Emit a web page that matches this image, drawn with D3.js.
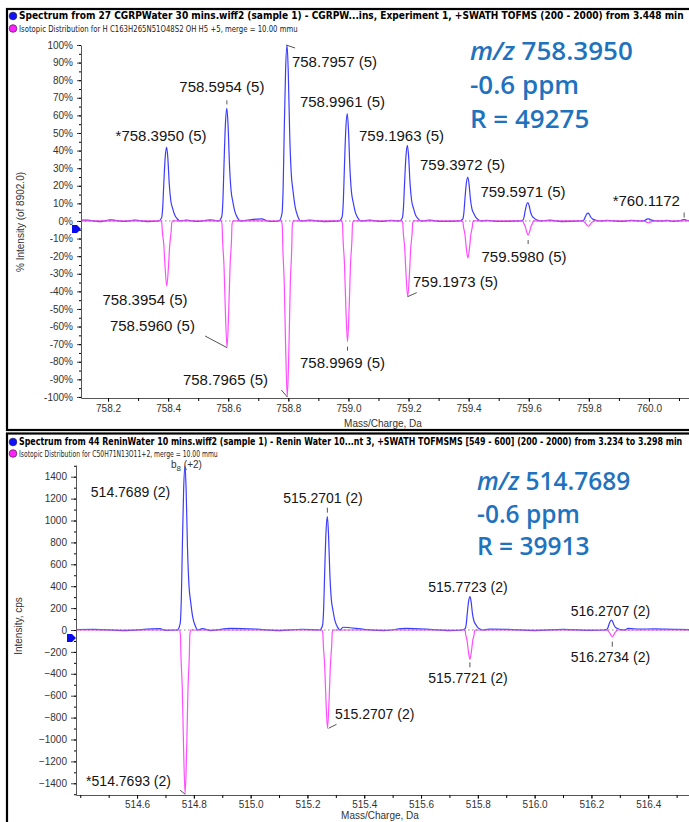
<!DOCTYPE html>
<html>
<head>
<meta charset="utf-8">
<script src="https://cdn.jsdelivr.net/npm/d3@7"></script>
<style>
  body { margin: 0; background: #fff; }
  svg { display: block; font-family: "Liberation Sans", Arial, sans-serif; }
</style>
</head>
<body>
<div id="chart"></div>
<script>
/**
 * DATA
 * */
const topHeader = "Spectrum from 27 CGRPWater 30 mins.wiff2 (sample 1) - CGRPW...ins, Experiment 1, +SWATH TOFMS (200 - 2000) from 3.448 min";
const topSubHeader = "Isotopic Distribution for H C163H265N51O48S2 OH H5 +5, merge = 10.00 mmu";
const botHeader = "Spectrum from 44 ReninWater 10 mins.wiff2 (sample 1) - Renin Water 10...nt 3, +SWATH TOFMSMS [549 - 600] (200 - 2000) from 3.234 to 3.298 min";
const botSubHeader = "Isotopic Distribution for C50H71N13O11+2, merge = 10.00 mmu";

// measured (blue, up) and theoretical (pink, down), % intensity
const topMeasured = [
  { mz: 758.3950, value: 42, label: "*758.3950 (5)" },
  { mz: 758.5954, value: 64, label: "758.5954 (5)" },
  { mz: 758.7957, value: 100, label: "758.7957 (5)" },
  { mz: 758.9961, value: 61, label: "758.9961 (5)" },
  { mz: 759.1963, value: 43, label: "759.1963 (5)" },
  { mz: 759.3972, value: 25, label: "759.3972 (5)" },
  { mz: 759.5971, value: 10.5, label: "759.5971 (5)" },
  { mz: 759.7975, value: 4.5 },
  { mz: 759.9980, value: 1.2 },
  { mz: 760.1172, value: 0.8, label: "*760.1172" }
];
const topTheory = [
  { mz: 758.3954, value: 37, label: "758.3954 (5)" },
  { mz: 758.5960, value: 72, label: "758.5960 (5)" },
  { mz: 758.7965, value: 100, label: "758.7965 (5)" },
  { mz: 758.9969, value: 68.6, label: "758.9969 (5)" },
  { mz: 759.1973, value: 43, label: "759.1973 (5)" },
  { mz: 759.3976, value: 21 },
  { mz: 759.5980, value: 8, label: "759.5980 (5)" },
  { mz: 759.7984, value: 3 },
  { mz: 759.9987, value: 1 }
];
const topNoise = [
  [758.13, 0.5], [758.17, -0.4], [758.21, 0.6], [758.25, -0.3], [758.29, 0.5], [758.33, -0.4],
  [758.46, 0.5], [758.50, -0.3], [758.54, 0.6], [758.66, 0.4], [758.71, 1.2], [758.74, -0.3],
  [758.87, 0.5], [758.92, -0.4], [759.07, 0.5], [759.11, -0.3], [759.14, 0.4], [759.27, 0.5],
  [759.31, -0.3], [759.46, 0.4], [759.50, -0.3], [759.67, 0.5], [759.71, -0.4], [759.86, 0.4],
  [759.91, -0.3], [759.94, 0.4], [760.06, 0.3], [760.085, -0.3]
];
const topXTicks = [758.2, 758.4, 758.6, 758.8, 759.0, 759.2, 759.4, 759.6, 759.8, 760.0];
const topYTicks = [100, 90, 80, 70, 60, 50, 40, 30, 20, 10, 0, -10, -20, -30, -40, -50, -60, -70, -80, -90, -100];
const topInfo = ["758.3950", "-0.6 ppm", "R = 49275"];

// cps
const botMeasured = [
  { mz: 514.7689, value: 1500, label: "514.7689 (2)" },
  { mz: 515.2701, value: 1035, label: "515.2701 (2)" },
  { mz: 515.7723, value: 304, label: "515.7723 (2)" },
  { mz: 516.2707, value: 91, label: "516.2707 (2)" }
];
const botTheory = [
  { mz: 514.7693, value: 1500, label: "*514.7693 (2)" },
  { mz: 515.2707, value: 898, label: "515.2707 (2)" },
  { mz: 515.7721, value: 268, label: "515.7721 (2)" },
  { mz: 516.2734, value: 61, label: "516.2734 (2)" }
];
const botNoise = [
  [514.45, 6], [514.55, -5], [514.68, 12], [514.70, -4], [514.83, 12], [514.86, -5], [514.93, 15],
  [515.02, 8], [515.10, -6], [515.18, 7], [515.325, 25], [515.40, 6], [515.47, -5], [515.547, 14],
  [515.63, 6], [515.70, -5], [515.84, 8], [515.90, 6], [516.00, -5], [516.10, 6], [516.20, -4],
  [516.33, 15], [516.37, 8], [516.42, 10], [516.50, 5]
];
const botXTicks = [514.6, 514.8, 515.0, 515.2, 515.4, 515.6, 515.8, 516.0, 516.2, 516.4];
const botYTicks = [1400, 1200, 1000, 800, 600, 400, 200, 0, -200, -400, -600, -800, -1000, -1200, -1400];
const botInfo = ["514.7689", "-0.6 ppm", "R = 39913"];
const fragmentTag = ["b", "8", " (+2)"];

// peak profiles (offset in Da, fraction of height)
const blueShape = [[-0.027, 0], [-0.017, 0.04], [-0.013, 0.19], [-0.0095, 0.5], [-0.0048, 0.86], [0, 1],
  [0.004, 0.85], [0.0087, 0.5], [0.014, 0.27], [0.02, 0.17], [0.027, 0.08], [0.035, 0.03], [0.045, 0]];
const pinkShape = [[-0.02, 0], [-0.0165, 0.03], [-0.015, 0.14], [-0.01, 0.36], [-0.0057, 0.7], [0, 1],
  [0.0057, 0.7], [0.01, 0.36], [0.015, 0.14], [0.0165, 0.03], [0.02, 0]];

/**
 * LAYOUT (label offsets in px from each peak tip)
 * */
const topMeasuredLayout = [
  { dx: -5.6, dy: -5.7 },
  { dx: -5, dy: -16, lead: [0, -8, 0, -4] },
  { dx: 4.9, dy: 22.4, anchor: "start", lead: [-1, 0, 8, 3] },
  { dx: -4.8, dy: -6.2 },
  { dx: -5.9, dy: -3.9 },
  { dx: -5.3, dy: -6.6 },
  { dx: -4.9, dy: -5.1 },
  null, null,
  { dx: -4.2, dy: -13.2, anchor: "end", lead: [0, -7, 0, -2] }
];
const topTheoryLayout = [
  { dx: -21.8, dy: 19.3 },
  { dx: -74.6, dy: -16.3, lead: [-22, -11.7, 0, 0] },
  { dx: -61.8, dy: -11.6, lead: [-6, -7, 0, 0] },
  { dx: -5, dy: 26.4, lead: [0, 5, 0, 9] },
  { dx: 5.3, dy: -9.6, anchor: "start", lead: [0, 0, 9, -4] },
  null,
  { dx: -4.1, dy: 27, lead: [0, 5, 0, 9] },
  null, null
];
const botMeasuredLayout = [
  { dx: -54.5, dy: 30.9 },
  { dx: -4.4, dy: -13.7, lead: [0, -9, 0, -4] },
  { dx: -2, dy: -5 },
  { dx: -1, dy: -4.3 }
];
const botTheoryLayout = [
  { dx: -56.6, dy: -8.2, lead: [-5, -4, 0, 0] },
  { dx: 7.5, dy: -9, anchor: "start", lead: [1, 0, 9, -4] },
  { dx: -1.9, dy: 24, lead: [0, 3, 0, 8] },
  { dx: -1.8, dy: 25, lead: [0, 5, 0, 10] }
];

const blue = "#3c3cff", pink = "#ff4dff", infoColor = "#1f73be";

const svg = d3.select("#chart")
  .append("svg")
  .attr("width", 689)
  .attr("height", 822);

function profile(peaks, shape, sign, noise, lo, hi) {
  const pts = [[lo, 0], [hi, 0]];
  peaks.forEach(p => shape.forEach(([dx, f]) => pts.push([p.mz + dx, sign * p.value * f])));
  (noise || []).forEach(n => pts.push(n));
  return pts.sort((a, b) => a[0] - b[0]);
}

// header text squeezed horizontally to a given width
function headerText(g, str, px, py, size, bold, width, fill) {
  const t = g.append("text")
    .attr("font-family", "'Liberation Sans Narrow','DejaVu Sans Condensed',sans-serif")
    .attr("font-weight", bold ? "bold" : "normal")
    .attr("font-size", size).attr("fill", fill)
    .text(str);
  const natural = t.node().getComputedTextLength() || width;
  t.attr("transform", `translate(${px},${py}) scale(${width / natural},1)`);
  return t;
}

function drawPanel(cfg) {
  const g = svg.append("g");
  const x = cfg.x, y = cfg.y;
  const x0 = x.range()[0], y0 = y(0);

  // frame
  g.append("rect")
    .attr("x", 7).attr("y", cfg.frameTop)
    .attr("width", 700).attr("height", cfg.frameH)
    .attr("fill", "none").attr("stroke", "#000").attr("stroke-width", 2.2);

  // header lines
  g.append("circle").attr("cx", 13).attr("cy", cfg.headY[0] - 3).attr("r", 3.8)
    .attr("fill", "#1010ff").attr("stroke", "#202060").attr("stroke-width", 0.8);
  g.append("circle").attr("cx", 13).attr("cy", cfg.headY[1] - 3).attr("r", 3.8)
    .attr("fill", "#ff22ff").attr("stroke", "#602060").attr("stroke-width", 0.8);
  headerText(g, cfg.header, 19, cfg.headY[0], 10, true, cfg.headLen[0], "#000");
  headerText(g, cfg.sub, 19, cfg.headY[1], 9.5, false, cfg.headLen[1], "#222");

  // axes
  const yAxis = g.append("g")
    .attr("transform", `translate(${x0},0)`)
    .call(d3.axisLeft(y).tickValues(cfg.yTicks).tickFormat(cfg.yFormat)
      .tickSize(cfg.yTick).tickPadding(4).tickSizeOuter(0));
  g.append("g")
    .attr("transform", `translate(${x0},0)`)
    .call(d3.axisLeft(y).tickValues(y.ticks(cfg.yMinor)).tickFormat("").tickSize(2).tickSizeOuter(0))
    .call(a => a.select(".domain").remove());
  const xAxis = g.append("g")
    .attr("transform", `translate(0,${y.range()[0]})`)
    .call(d3.axisBottom(x).tickValues(cfg.xTicks).tickFormat(d3.format(".1f"))
      .tickSize(4).tickPadding(cfg.xPad).tickSizeOuter(0));
  g.append("g")
    .attr("transform", `translate(0,${y.range()[0]})`)
    .call(d3.axisBottom(x).tickValues(x.ticks(20)).tickFormat("").tickSize(3).tickSizeOuter(0))
    .call(a => a.select(".domain").remove());
  [yAxis, xAxis].forEach(a => {
    a.selectAll("text").attr("font-family", "'Liberation Sans',Arial,sans-serif")
      .attr("font-size", 10).attr("fill", "#333");
    a.selectAll("line").attr("stroke", "#444");
    a.select(".domain").attr("stroke", "#555");
  });

  // axis titles
  g.append("text")
    .attr("transform", `translate(${cfg.yTitlePos[0]},${cfg.yTitlePos[1]}) rotate(-90)`)
    .attr("text-anchor", "middle").attr("font-size", 10).attr("fill", "#333")
    .text(cfg.yTitle);
  g.append("text")
    .attr("x", cfg.xTitlePos[0]).attr("y", cfg.xTitlePos[1])
    .attr("text-anchor", "middle").attr("font-size", 10).attr("fill", "#333")
    .text("Mass/Charge, Da");

  // zero marker arrow
  g.append("path")
    .attr("d", `M${x0 - 9},${y0 + 4} L${x0 - 4},${y0 + 4} L${x0},${y0 + 8} L${x0 - 4},${y0 + 12} L${x0 - 9},${y0 + 12} Z`)
    .attr("fill", "#0a0aee");

  // traces
  const clipId = "clip" + Math.round(cfg.frameTop);
  g.append("clipPath").attr("id", clipId)
    .append("rect").attr("x", x0 + 0.5).attr("y", y.range()[1] - 6)
    .attr("width", 700).attr("height", y.range()[0] - y.range()[1] + 6);
  const plot = g.append("g").attr("clip-path", `url(#${clipId})`);
  const line = d3.line().x(d => x(d[0])).y(d => y(d[1])).curve(d3.curveMonotoneX);
  const [lo, hi] = x.domain();
  plot.append("path")
    .datum(profile(cfg.measured, blueShape, 1, cfg.noise, lo - 0.1, hi + 0.2))
    .attr("d", line).attr("fill", "none").attr("stroke", blue).attr("stroke-width", 1.2);
  plot.append("path")
    .datum(profile(cfg.theory, pinkShape, -1, null, lo - 0.1, hi + 0.2))
    .attr("d", line).attr("fill", "none").attr("stroke", pink).attr("stroke-width", 1.2);
  plot.append("line")
    .attr("x1", x0).attr("x2", 700).attr("y1", y0).attr("y2", y0)
    .attr("stroke", "#666").attr("stroke-width", 1).attr("stroke-dasharray", "1.5,2.5")
    .attr("opacity", 0.75);

  // peak labels
  function labels(peaks, layout, sign) {
    peaks.forEach((p, i) => {
      const l = layout[i];
      if (!l || !p.label) return;
      const ax = x(p.mz), ay = y(sign * p.value);
      if (l.lead) {
        g.append("line")
          .attr("x1", ax + l.lead[0]).attr("y1", ay + l.lead[1])
          .attr("x2", ax + l.lead[2]).attr("y2", ay + l.lead[3])
          .attr("stroke", "#555").attr("stroke-width", 1);
      }
      g.append("text")
        .attr("x", ax + l.dx).attr("y", ay + l.dy)
        .attr("text-anchor", l.anchor || "middle")
        .attr("font-size", cfg.labelSize).attr("fill", "#151515")
        .text(p.label);
    });
  }
  labels(cfg.measured, cfg.measuredLayout, 1);
  labels(cfg.theory, cfg.theoryLayout, -1);

  // accuracy / resolution note
  const info = g.append("g")
    .attr("font-family", "'Open Sans','Noto Sans',sans-serif")
    .attr("font-weight", 600).attr("font-size", cfg.infoSize).attr("fill", infoColor);
  const first = info.append("text").attr("x", cfg.infoX).attr("y", cfg.infoY[0]);
  first.append("tspan").attr("font-style", "italic").text("m/z");
  first.append("tspan").text(" " + cfg.info[0]);
  info.append("text").attr("x", cfg.infoX).attr("y", cfg.infoY[1]).text(cfg.info[1]);
  info.append("text").attr("x", cfg.infoX).attr("y", cfg.infoY[2]).text(cfg.info[2]);

  return { g, x, y };
}

// top panel
drawPanel({
  frameTop: 9, frameH: 421,
  headY: [19, 31.5], headLen: [666, 279],
  header: topHeader, sub: topSubHeader,
  x: d3.scaleLinear().domain([758.110, 760.135]).range([81, 689.5]),
  y: d3.scaleLinear().domain([-100.6, 100]).range([398, 45]),
  yTicks: topYTicks, yFormat: d => d + "%", yTick: 4, yMinor: 40,
  xTicks: topXTicks, xPad: 3,
  yTitle: "% Intensity (of 8902.0)", yTitlePos: [23.5, 222],
  xTitlePos: [383, 426.5],
  measured: topMeasured, theory: topTheory, noise: topNoise,
  measuredLayout: topMeasuredLayout, theoryLayout: topTheoryLayout,
  labelSize: 15,
  info: topInfo, infoX: 470, infoY: [60, 94, 128], infoSize: 26
});

// bottom panel
const bot = drawPanel({
  frameTop: 433.5, frameH: 400,
  headY: [445, 456.5], headLen: [664, 199],
  header: botHeader, sub: botSubHeader,
  x: d3.scaleLinear().domain([514.385, 516.545]).range([76, 689.4]),
  y: d3.scaleLinear().domain([-1507, 1507]).range([795, 465]),
  yTicks: botYTicks, yFormat: d3.format("d"), yTick: 5, yMinor: 30,
  xTicks: botXTicks, xPad: 2,
  yTitle: "Intensity, cps", yTitlePos: [21.5, 626],
  xTitlePos: [380, 819],
  measured: botMeasured, theory: botTheory, noise: botNoise,
  measuredLayout: botMeasuredLayout, theoryLayout: botTheoryLayout,
  labelSize: 14,
  info: botInfo, infoX: 477, infoY: [490, 522.5, 555], infoSize: 24.5
});

// fragment annotation on the monoisotopic peak
const tagX = bot.x(botMeasured[0].mz), tagY = bot.y(botMeasured[0].value);
const tag = bot.g.append("text")
  .attr("x", tagX - 14).attr("y", tagY + 2.5)
  .attr("font-size", 10).attr("fill", "#333");
tag.append("tspan").text(fragmentTag[0]);
tag.append("tspan").attr("font-size", 8).attr("dy", 3).text(fragmentTag[1]);
tag.append("tspan").attr("dy", -3).text(fragmentTag[2]);
</script>
</body>
</html>
